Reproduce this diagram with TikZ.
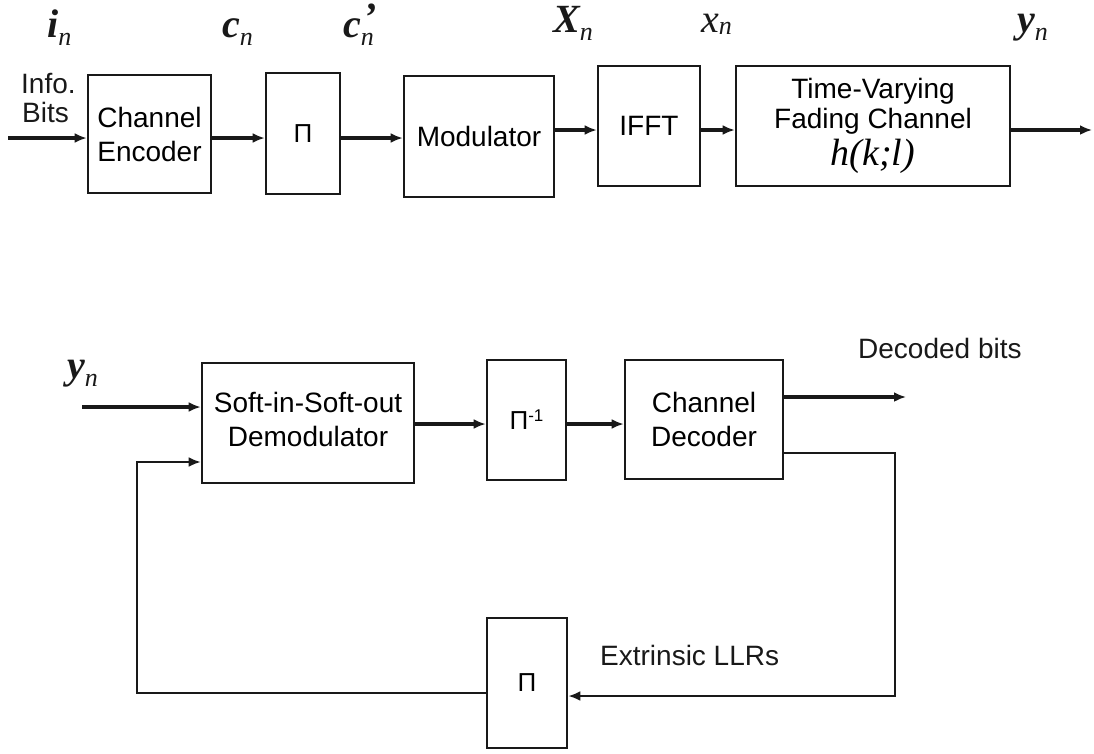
\documentclass[tikz,border=0pt]{standalone}
\usepackage{fontspec}
\setmainfont{Liberation Sans}
\newfontfamily\tms{Liberation Serif}
\usetikzlibrary{arrows.meta}

% bold italic symbol with an italic subscript n
\newcommand\symb[1]{{\tms\bfseries\itshape #1}\raisebox{-8pt}{\fontsize{26}{26}\selectfont\tms\itshape n}}

\begin{document}
\begin{tikzpicture}[x=1pt,y=-1pt,
  blk/.style={draw=black!90, line width=2.6pt, inner sep=0pt, align=center,
              font=\fontsize{28}{34}\selectfont},
  arr/.style={draw=black!90, line width=3.2pt, -{Latex[length=12pt,width=10pt]}},
  thin/.style={draw=black!90, line width=2.3pt},
  thinarr/.style={thin, -{Latex[length=12pt,width=10pt]}},
  txt/.style={inner sep=0pt, anchor=base west, font=\fontsize{28}{34}\selectfont, text=black!90},
  sym/.style={inner sep=0pt, anchor=base west, font=\fontsize{40}{40}\selectfont, text=black!90}]
\useasboundingbox (0,0) rectangle (1094,753);

% ---- transmitter ----
\node[blk, minimum width=123pt, minimum height=118pt] (enc) at (149.5,134) {Channel\\Encoder};
\node[blk, minimum width=74pt,  minimum height=121pt] (pi1) at (303,133.5) {\fontsize{26}{30}\selectfont Π};
\node[blk, minimum width=150pt, minimum height=121pt] (mod) at (479,136.5) {Modulator};
\node[blk, minimum width=102pt, minimum height=120pt] (ifft) at (649,126) {IFFT};
\node[blk, minimum width=274pt, minimum height=120pt, font=\fontsize{28}{30}\selectfont] (chan) at (873,126)
  {Time-Varying\\Fading Channel\\[4pt]{\tms\itshape\fontsize{38}{38}\selectfont h(k;l)}};

\coordinate (in)  at (8,138);
\coordinate (r1)  at (0,138);
\coordinate (r2)  at (0,130);
\coordinate (out) at (1092,130);

\draw[arr] (in) -- (enc.west|-r1);
\draw[arr] (enc.east|-r1) -- (pi1.west|-r1);
\draw[arr] (pi1.east|-r1) -- (mod.west|-r1);
\draw[arr] (mod.east|-r2) -- (ifft.west|-r2);
\draw[arr] (ifft.east|-r2) -- (chan.west|-r2);
\draw[arr] (chan.east|-r2) -- (out);

\node[txt] (info) at (21,93) {Info.};
\node[txt] (bits) at (22,122) {Bits};

\node[sym] (lin) at (47,37) {\symb{i}};
\node[sym] (lcn) at (222,37) {\symb{c}};
\node[sym] (lcp) at (343,37) {{\tms\bfseries\itshape c}\rlap{\hspace{3pt}\raisebox{7pt}{\tms\bfseries\itshape ’}}\raisebox{-8pt}{\fontsize{26}{26}\selectfont\tms\itshape n}};
\node[sym] (lXn) at (553,32) {\symb{X}};
\node[sym] (lxn) at (701,32) {{\tms\itshape x}\raisebox{-2pt}{\fontsize{26}{26}\selectfont\tms\itshape n}};
\node[sym] (lyn) at (1017,32) {\symb{y}};

% ---- receiver ----
\node[blk, minimum width=212pt, minimum height=120pt] (dem) at (308,423) {\mbox{}\\[-20pt]Soft-in-Soft-out\\Demodulator};
\node[blk, minimum width=79pt,  minimum height=120pt] (pii) at (526.5,420)
  {\fontsize{26}{30}\selectfont Π\raisebox{8pt}{\fontsize{17}{17}\selectfont -1}};
\node[blk, minimum width=158pt, minimum height=119pt] (dec) at (704,419.5) {Channel\\Decoder};
\node[blk, minimum width=80pt,  minimum height=130pt] (pib) at (527,683) {\fontsize{26}{30}\selectfont Π};

\coordinate (yin)  at (82,407);
\coordinate (r3)   at (0,424);
\coordinate (dout) at (906,397);
\coordinate (fb1)  at (895,453);
\coordinate (fb2)  at (895,696);
\coordinate (fb3)  at (137,693);
\coordinate (fb4)  at (137,462);

\draw[arr] (yin) -- (dem.west|-yin);
\draw[arr] (dem.east|-r3) -- (pii.west|-r3);
\draw[arr] (pii.east|-r3) -- (dec.west|-r3);
\draw[arr] (dec.east|-dout) -- (dout);
\draw[thinarr] (dec.east|-fb1) -- (fb1) -- (fb2) -- (pib.east|-fb2);
\draw[thinarr] (pib.west|-fb3) -- (fb3) -- (fb4) -- (dem.west|-fb4);

\node[sym] (lyb) at (67,378) {\symb{y}};
\node[txt] (decb) at (858,358) {Decoded bits};
\node[txt] (ext) at (600,665) {Extrinsic LLRs};
\end{tikzpicture}
\end{document}
